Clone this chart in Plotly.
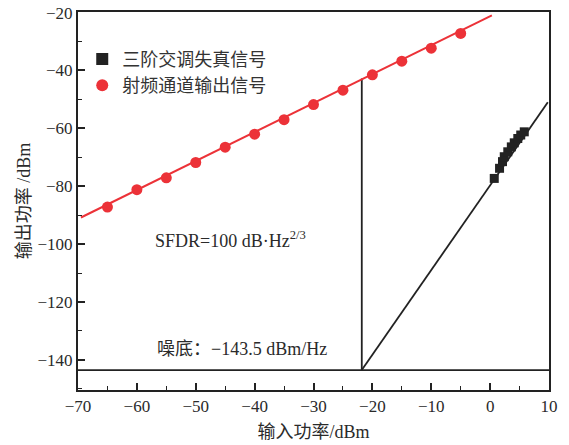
import plotly.graph_objects as go

# Data
red_x = [-65, -60, -55, -50, -45, -40, -35, -30, -25, -20, -15, -10, -5]
red_y = [-87.2, -81.2, -77.1, -71.8, -66.5, -62.0, -57.0, -51.8, -46.8, -41.5, -36.8, -32.3, -27.2]
red_fit_x = [-69.5, 0.3]
red_fit_y = [-90.8, -21.0]

imd_x = [0.7, 1.6, 2.1, 2.4, 3.0, 3.6, 4.1, 4.7, 5.2, 5.8]
imd_y = [-77.3, -73.8, -71.5, -69.8, -68.1, -66.4, -65.0, -63.5, -62.3, -61.2]
imd_fit_x = [-21.8, 9.8]
imd_fit_y = [-143.5, -51.0]

floor_x = [-70, 10]
floor_y = [-143.5, -143.5]

vline_x = [-21.8, -21.8]
vline_y = [-143.5, -42.8]

xticks = [-70, -60, -50, -40, -30, -20, -10, 0, 10]
yticks = [-140, -120, -100, -80, -60, -40, -20]

FONT = "Times New Roman, Liberation Serif, Noto Sans CJK SC, serif"
RED = "#ec3238"
BLACK = "#222222"
TXT = "#2a2a2a"

fig = go.Figure()
fig.add_trace(go.Scatter(x=floor_x, y=floor_y, mode="lines",
                         line=dict(color=BLACK, width=1.8), showlegend=False, hoverinfo="skip"))
fig.add_trace(go.Scatter(x=vline_x, y=vline_y, mode="lines",
                         line=dict(color=BLACK, width=1.8), showlegend=False, hoverinfo="skip"))
fig.add_trace(go.Scatter(x=imd_fit_x, y=imd_fit_y, mode="lines",
                         line=dict(color=BLACK, width=1.8), showlegend=False, hoverinfo="skip"))
fig.add_trace(go.Scatter(x=red_fit_x, y=red_fit_y, mode="lines",
                         line=dict(color=RED, width=2), showlegend=False, hoverinfo="skip"))
fig.add_trace(go.Scatter(x=imd_x, y=imd_y, mode="markers", name="三阶交调失真信号",
                         marker=dict(symbol="square", size=9, color=BLACK)))
fig.add_trace(go.Scatter(x=red_x, y=red_y, mode="markers", name="射频通道输出信号",
                         marker=dict(symbol="circle", size=11, color=RED)))

fig.add_annotation(x=-57.2, y=-98.5, xref="x", yref="y", xanchor="left", yanchor="middle",
                   text="SFDR=100 dB·Hz<sup>2/3</sup>", showarrow=False,
                   font=dict(family=FONT, size=18, color=TXT))
fig.add_annotation(x=-56.9, y=-136.3, xref="x", yref="y", xanchor="left", yanchor="middle",
                   text="噪底：−143.5 dBm/Hz", showarrow=False,
                   font=dict(family=FONT, size=18, color=TXT))

axis_common = dict(showgrid=False, zeroline=False, showline=True, linecolor=BLACK, linewidth=2,
                   mirror=True, ticks="inside", ticklen=7, tickwidth=1.5, tickcolor=BLACK,
                   automargin=False,
                   tickfont=dict(family=FONT, size=17, color=TXT))

fig.update_xaxes(range=[-70, 10], tickvals=xticks,
                 minor=dict(ticks="inside", ticklen=4, tickwidth=1.2, dtick=5, tickcolor=BLACK),
                 title=dict(text="输入功率/dBm", font=dict(family=FONT, size=18, color=TXT), standoff=10),
                 **axis_common)
fig.update_yaxes(range=[-150.4, -19.8], tickvals=yticks,
                 minor=dict(ticks="inside", ticklen=4, tickwidth=1.2, dtick=10, tickcolor=BLACK),
                 title=dict(text="输出功率 /dBm", font=dict(family=FONT, size=18, color=TXT), standoff=2),
                 **axis_common)

fig.update_layout(
    width=569, height=445,
    margin=dict(l=78, r=20, t=12, b=55),
    plot_bgcolor="white", paper_bgcolor="white",
    font=dict(family=FONT, size=17, color=TXT),
    legend=dict(x=0.009, y=0.924, xanchor="left", yanchor="top", bgcolor="rgba(0,0,0,0)",
                font=dict(family=FONT, size=18, color="#333"), itemsizing="constant",
                tracegroupgap=2),
)

fig.write_html("out.html", config={"displayModeBar": False},
               post_script="document.body.style.margin='0';")
